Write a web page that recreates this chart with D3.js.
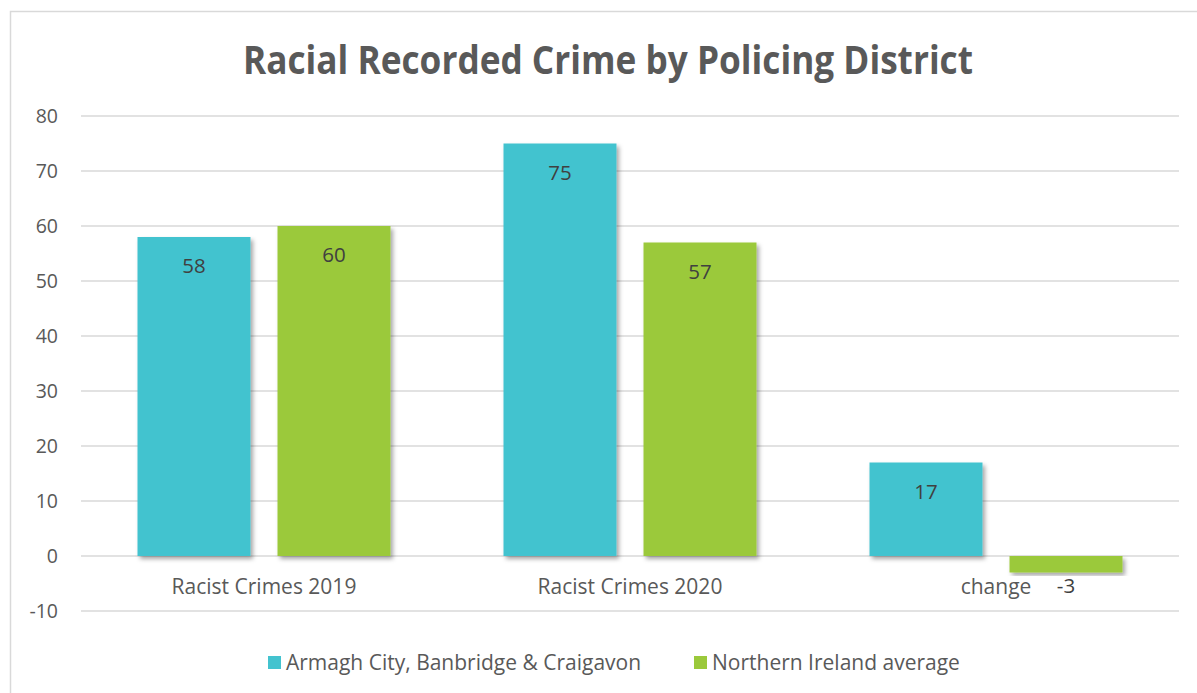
<!DOCTYPE html>
<html><head><meta charset="utf-8">
<script src="https://cdn.jsdelivr.net/npm/d3@7/dist/d3.min.js"></script>
<style>
html,body{margin:0;padding:0;background:#fff;}
svg{display:block;font-family:"Open Sans",sans-serif;}
</style></head>
<body><svg id="chart" width="1197" height="693"></svg>
<script>
const categories = ["Racist Crimes 2019", "Racist Crimes 2020", "change"];
const seriesNames = ["Armagh City, Banbridge & Craigavon", "Northern Ireland average"];
const armaghValues = [58, 75, 17];
const niValues = [60, 57, -3];
const tickValues = [-10, 0, 10, 20, 30, 40, 50, 60, 70, 80];
const colors = ["#43C3CF", "#9BC93B"];
const title = "Racial Recorded Crime by Policing District";

const svg = d3.select("#chart");
const defs = svg.append("defs");
const f = defs.append("filter").attr("id","shadow").attr("x","-20%").attr("y","-20%").attr("width","140%").attr("height","140%");
f.append("feDropShadow").attr("dx",2.5).attr("dy",3).attr("stdDeviation",2.2).attr("flood-color","#000").attr("flood-opacity",0.35);

// outer border
svg.append("rect").attr("x",10.5).attr("y",11.5).attr("width",1200).attr("height",700)
  .attr("fill","none").attr("stroke","#d9d9d9").attr("stroke-width",1.5);

// title
svg.append("text").attr("x",608).attr("y",74).attr("text-anchor","middle")
  .attr("font-size",40).attr("font-weight","bold").attr("fill","#595959")
  .attr("textLength",730).attr("lengthAdjust","spacingAndGlyphs").text(title);

const y = d3.scaleLinear().domain([-10, 80]).range([611, 116]);
const x0 = d3.scaleBand().domain(categories).range([81, 1179]).padding(0);
const x1 = d3.scaleBand().domain(seriesNames).range([0, x0.bandwidth()]).paddingInner(0.193).paddingOuter(0.4036);

// gridlines
svg.append("g").selectAll("line").data(tickValues).join("line")
  .attr("x1",81).attr("x2",1179).attr("y1",d=>y(d)).attr("y2",d=>y(d))
  .attr("stroke","#d9d9d9").attr("stroke-width",1.5);

// y axis labels
const yAxis = d3.axisLeft(y).tickValues(tickValues).tickSize(0).tickPadding(0).tickFormat(d=>String(d));
const yg = svg.append("g").attr("transform","translate(58,0)").call(yAxis);
yg.select(".domain").remove();
yg.selectAll("text").attr("font-family","'Open Sans',sans-serif").attr("font-size",19.5).attr("fill","#595959");

// bars
const rows = categories.map((c,i)=>({cat:c, vals:[armaghValues[i], niValues[i]]}));
const groups = svg.append("g").selectAll("g").data(rows).join("g")
  .attr("transform",d=>`translate(${x0(d.cat)},0)`);
groups.selectAll("rect").data(d=>d.vals.map((v,j)=>({v, s:seriesNames[j], j})))
  .join("rect")
  .attr("x",d=>x1(d.s)).attr("width",x1.bandwidth())
  .attr("y",d=>y(Math.max(0,d.v))).attr("height",d=>Math.abs(y(d.v)-y(0)))
  .attr("fill",d=>colors[d.j]).attr("filter","url(#shadow)");

// category labels
svg.append("g").selectAll("text").data(categories).join("text")
  .attr("x",d=>x0(d)+x0.bandwidth()/2).attr("y",594).attr("text-anchor","middle")
  .attr("font-size",21).attr("fill","#595959").text(d=>d);

// data labels
groups.selectAll("text.val").data(d=>d.vals.map((v,j)=>({v, s:seriesNames[j], j})))
  .join("text").attr("class","val")
  .attr("x",d=>x1(d.s)+x1.bandwidth()/2)
  .attr("y",d=>d.v>=0 ? y(d.v)+36 : y(d.v)+20)
  .attr("text-anchor","middle").attr("font-size",20.5).attr("fill","#404040")
  .text(d=>String(d.v));

// legend
const legendX = [268, 694];
const lg = svg.append("g").selectAll("g").data(seriesNames).join("g")
  .attr("transform",(d,i)=>`translate(${legendX[i]},0)`);
lg.append("rect").attr("x",0).attr("y",656).attr("width",13).attr("height",13).attr("fill",(d,i)=>colors[i]);
lg.append("text").attr("x",18).attr("y",670).attr("font-size",21).attr("fill","#595959").text(d=>d);
</script>
</body></html>
